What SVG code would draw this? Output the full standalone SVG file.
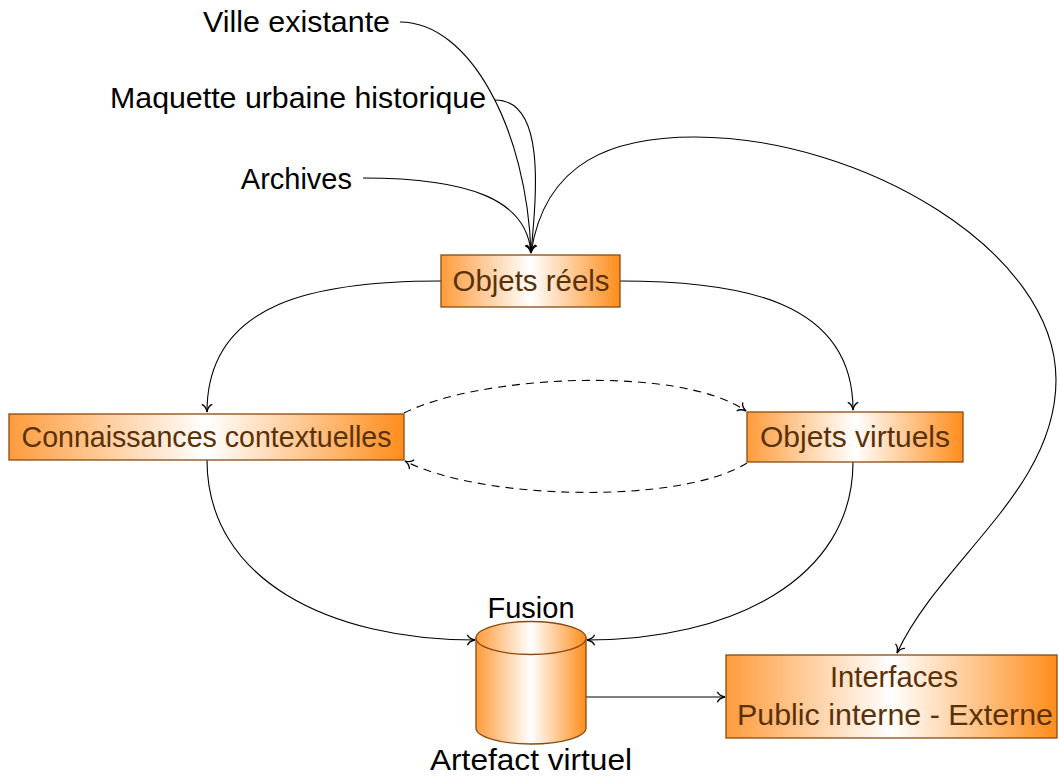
<svg xmlns="http://www.w3.org/2000/svg" width="1059" height="776" viewBox="0 0 1059 776">
<defs>
<linearGradient id="og" x1="0" y1="0" x2="1" y2="0">
<stop offset="0" stop-color="#ff9c3c"/>
<stop offset="0.5" stop-color="#ffffff"/>
<stop offset="1" stop-color="#ff8d1c"/>
</linearGradient>
<marker id="ah" markerUnits="userSpaceOnUse" markerWidth="14" markerHeight="14" viewBox="-8 -6 10 12" refX="0" refY="0" orient="auto">
<path d="M -6.5 -4.5 C -5.5 -1.8, -2.5 -0.5, 0 0 C -2.5 0.5, -5.5 1.8, -6.5 4.5" fill="none" stroke="#000" stroke-width="1.1"/>
</marker>
</defs>
<style>
.box{fill:url(#og);stroke:#8a4a10;stroke-width:1.3}
.bt{font-family:"Liberation Sans",Arial,sans-serif;font-size:29px;fill:#5a3108;text-anchor:middle}
.lt{font-family:"Liberation Sans",Arial,sans-serif;font-size:29px;fill:#000}
.c{fill:none;stroke:#000;stroke-width:1.1;marker-end:url(#ah)}
.d{stroke-dasharray:8 6}
</style>
<rect width="1059" height="776" fill="#fff"/>
<g id="connectors">
<path class="c" d="M 400 22 C 470 22, 527 130, 531 253"/>
<path class="c" d="M 495 100 C 545 100, 537 190, 531 253"/>
<path class="c" d="M 363 178 C 470 178, 527 200, 531 253"/>
<path class="c" d="M 531 253 C 545 160, 615 137, 695 137 C 860 137, 1056 250, 1056 380 C 1056 490, 940 560, 897 653"/>
<path class="c" d="M 441 281 C 320 281, 207 300, 207 412"/>
<path class="c" d="M 620 281 C 740 281, 853 300, 853 410"/>
<path class="c d" d="M 404 413 C 480 375, 680 365, 746 411"/>
<path class="c d" d="M 747 463 C 680 505, 480 500, 405 461"/>
<path class="c" d="M 207 460 C 207 580, 330 640, 475 640"/>
<path class="c" d="M 853 462 C 853 580, 730 640, 587 640"/>
<path class="c" d="M 586 697 L 725 697"/>
</g>
<g id="ville"><text class="lt" x="390" y="32" text-anchor="end" textLength="187" lengthAdjust="spacingAndGlyphs">Ville existante</text></g>
<g id="maquette"><text class="lt" x="486" y="108" text-anchor="end" textLength="376" lengthAdjust="spacingAndGlyphs">Maquette urbaine historique</text></g>
<g id="archives"><text class="lt" x="352" y="189" text-anchor="end">Archives</text></g>
<g id="objets-reels">
<rect class="box" x="441" y="255" width="179" height="52"/>
<text class="bt" x="531" y="291" textLength="157" lengthAdjust="spacingAndGlyphs">Objets réels</text>
</g>
<g id="connaissances">
<rect class="box" x="9" y="414" width="395" height="46"/>
<text class="bt" x="206.5" y="447" textLength="370" lengthAdjust="spacingAndGlyphs">Connaissances contextuelles</text>
</g>
<g id="objets-virtuels">
<rect class="box" x="747" y="412" width="216" height="50"/>
<text class="bt" x="855" y="447" textLength="190" lengthAdjust="spacingAndGlyphs">Objets virtuels</text>
</g>
<g id="fusion">
<path class="box" d="M 476 638 L 476 728 A 55 16 0 0 0 586 728 L 586 638 Z"/>
<ellipse class="box" cx="531" cy="638" rx="55" ry="16.5"/>
<text class="lt" x="531" y="618" text-anchor="middle">Fusion</text>
<text class="lt" x="531" y="770" text-anchor="middle" textLength="202" lengthAdjust="spacingAndGlyphs">Artefact virtuel</text>
</g>
<g id="interfaces">
<rect class="box" x="726" y="655" width="331" height="83"/>
<text class="bt" x="894" y="687" textLength="128" lengthAdjust="spacingAndGlyphs">Interfaces</text>
<text class="bt" x="895" y="725" textLength="316" lengthAdjust="spacingAndGlyphs">Public interne - Externe</text>
</g>
</svg>
